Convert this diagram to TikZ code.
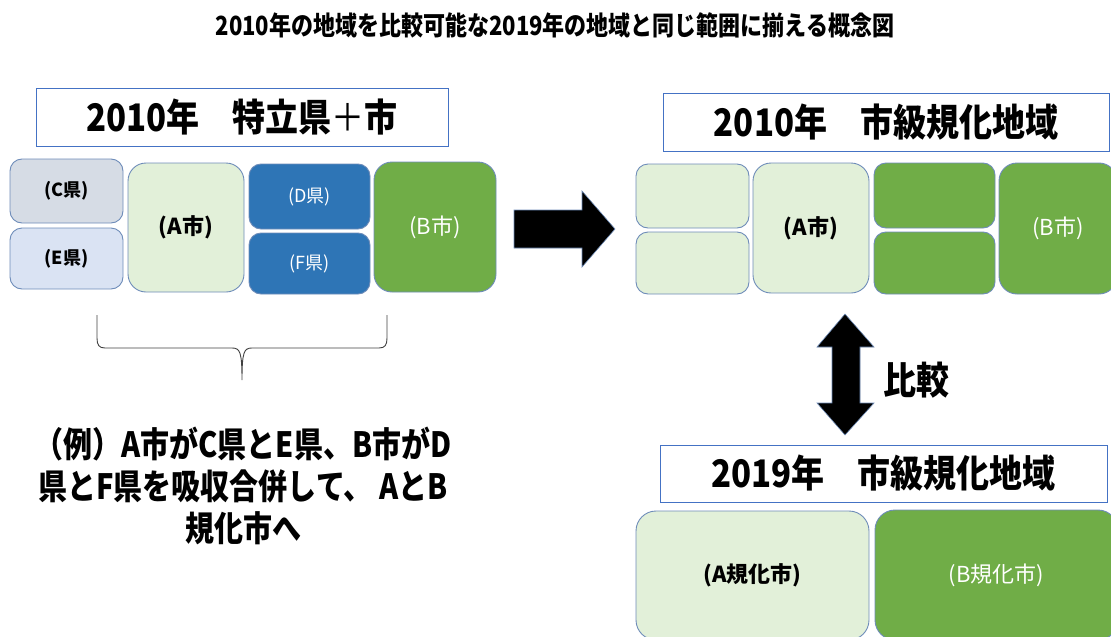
\documentclass[tikz,border=0pt]{standalone}
\usepackage{fontspec}
\setmainfont{Noto Sans CJK JP}
\definecolor{cgray}{RGB}{214,220,229}
\definecolor{eblue}{RGB}{218,227,243}
\definecolor{lgreen}{RGB}{226,240,217}
\definecolor{dblue}{RGB}{46,117,182}
\definecolor{dgreen}{RGB}{112,173,71}
\definecolor{boxline}{RGB}{110,140,185}
\definecolor{hdrline}{RGB}{68,114,196}
\newcommand{\tallr}[2][1.15]{\scalebox{1}[#1]{#2}}
\tikzset{
  hdr/.style={draw=hdrline, line width=1pt, fill=white, inner sep=0pt},
  rbox/.style={draw=boxline, line width=0.9pt, rounded corners=12pt, inner sep=0pt},
  bigbox/.style={rbox, rounded corners=18pt},
  darktext/.style={text=black, font=\fontsize{18}{20}\selectfont\bfseries},
  darkbig/.style={text=black, font=\fontsize{22}{24}\selectfont\bfseries},
  lighttext/.style={text=white, font=\fontsize{18}{20}\selectfont},
  lightbig/.style={text=white, font=\fontsize{22}{24}\selectfont},
  hdrtext/.style={font=\fontsize{33}{36}\selectfont\bfseries},
  blockarrow/.style={fill=black, draw=boxline, line width=0.6pt},
}
\begin{document}
\begin{tikzpicture}[x=1pt,y=-1pt]
\useasboundingbox (0,0) rectangle (1111,637);
\clip (0,0) rectangle (1111,637);
% title
\node[font=\fontsize{22}{24}\selectfont\bfseries] (title) at (555,25) {\tallr[1.2]{2010年の地域を比較可能な2019年の地域と同じ範囲に揃える概念図}};
% left header
\node[hdr, minimum width=412pt, minimum height=58pt, hdrtext] (hL) at (242,117) {\tallr{2010年　特立県{\mdseries ＋}市}};
% left boxes
\node[rbox, fill=cgray, minimum width=113pt, minimum height=64pt, darktext] (C) at (66.5,191) {(C県)};
\node[rbox, fill=eblue, minimum width=113pt, minimum height=61pt, darktext] (E) at (66.5,258.5) {(E県)};
\node[bigbox, fill=lgreen, minimum width=116pt, minimum height=129pt, darkbig] (A) at (186,227.5) {(A市)};
\node[rbox, fill=dblue, minimum width=121pt, minimum height=65pt, lighttext] (D) at (309.5,196.5) {(D県)};
\node[rbox, fill=dblue, minimum width=121pt, minimum height=61pt, lighttext] (F) at (309.5,263.5) {(F県)};
\node[bigbox, fill=dgreen, minimum width=122pt, minimum height=130pt, lightbig] (B) at (435,227) {(B市)};
% brace
\coordinate (br1) at (97,315);
\coordinate (br2) at (387,315);
\coordinate (brtip) at (242,380);
\draw[line width=0.9pt, color=black!75] (br1) -- (97,338) .. controls (97,345) and (99,348) .. (105,348) -- (232,348) .. controls (240,348) and (242,352) .. (brtip) .. controls (242,352) and (244,348) .. (252,348) -- (379,348) .. controls (385,348) and (387,345) .. (387,338) -- (br2);
% explanation text
\node[font=\fontsize{29}{34}\selectfont\bfseries, inner sep=0pt] (ex) at (243,490) {\tallr[1.2]{\begin{tabular}{@{}c@{}}（例）A市がC県とE県、B市がD\\県とF県を吸収合併して、 AとB\\規化市へ\end{tabular}}};
% right arrow
\draw[blockarrow] (514,210) -- (582,210) -- (582,191) -- (615,229) -- (582,267) -- (582,248) -- (514,248) -- cycle;
% right header 2010
\node[hdr, minimum width=446pt, minimum height=58pt, hdrtext] (hR1) at (886,122) {\tallr{2010年　市級規化地域}};
\node[rbox, fill=lgreen, minimum width=113pt, minimum height=64pt] (TL) at (692.5,196) {};
\node[rbox, fill=lgreen, minimum width=113pt, minimum height=62pt] (BL) at (692.5,263) {};
\node[bigbox, fill=lgreen, minimum width=116pt, minimum height=130pt, darkbig] (A2) at (811,228) {(A市)};
\node[rbox, fill=dgreen, minimum width=121pt, minimum height=65pt] (GT) at (934.5,195.5) {};
\node[rbox, fill=dgreen, minimum width=121pt, minimum height=62pt] (GB) at (934.5,263) {};
\node[bigbox, fill=dgreen, minimum width=118pt, minimum height=131pt, lightbig] (B2) at (1058,228.5) {(B市)};
% double arrow
\draw[blockarrow] (845,314) -- (874,347) -- (860,347) -- (860,403) -- (874,403) -- (845,435) -- (817,403) -- (832,403) -- (832,347) -- (817,347) -- cycle;
\node[font=\fontsize{33}{36}\selectfont\bfseries] (cmp) at (916,380) {\tallr{比較}};
% right header 2019
\node[hdr, minimum width=447pt, minimum height=57pt, hdrtext] (hR2) at (883.5,473.5) {\tallr{2019年　市級規化地域}};
\node[rbox, rounded corners=20pt, fill=lgreen, minimum width=233pt, minimum height=129pt, darkbig] (A3) at (752.5,575.5) {(A規化市)};
\node[rbox, rounded corners=20pt, fill=dgreen, minimum width=243pt, minimum height=130pt, lightbig] (B3) at (996.5,575) {(B規化市)};
\end{tikzpicture}
\end{document}
